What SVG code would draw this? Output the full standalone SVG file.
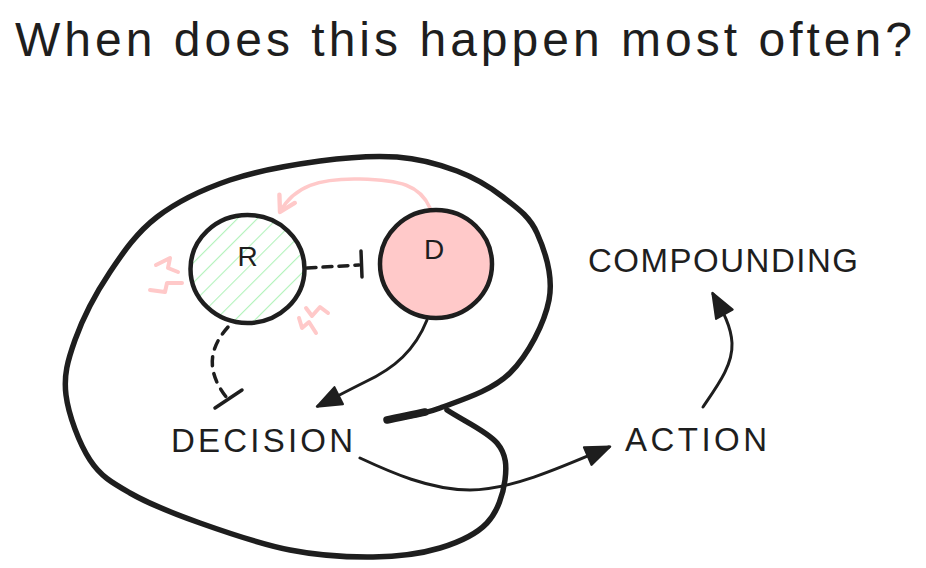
<svg xmlns="http://www.w3.org/2000/svg" width="926" height="568" viewBox="0 0 926 568">
  <style>
    .ink { fill: none; stroke: #1e1e1e; stroke-linecap: round; stroke-linejoin: round; }
    .pink { fill: none; stroke: #ffc9c9; stroke-linecap: round; stroke-linejoin: round; }
    .label { font-family: "Liberation Sans", Arial, sans-serif; fill: #1e1e1e; }
  </style>
  <defs>
    <marker id="arrowFill" markerUnits="userSpaceOnUse" markerWidth="30" markerHeight="30" viewBox="-20 -10 22 20" refX="0" refY="0" orient="auto">
      <path d="M1,0 L-17,-7 L-17,7 Z" fill="#1e1e1e" stroke="#1e1e1e" stroke-width="1.5" stroke-linejoin="round"/>
    </marker>
    <marker id="arrowPink" markerUnits="userSpaceOnUse" markerWidth="30" markerHeight="30" viewBox="-20 -12 24 24" refX="0" refY="0" orient="auto">
      <path d="M-12,-7 L0,0 L-12,7" fill="none" stroke="#ffc9c9" stroke-width="3.5" stroke-linecap="round" stroke-linejoin="round"/>
    </marker>
    <pattern id="hatch" patternUnits="userSpaceOnUse" width="14" height="14" patternTransform="rotate(45)">
      <line x1="0" y1="0" x2="0" y2="14" stroke="#b2f2bb" stroke-width="2.2"/>
    </pattern>
  </defs>

  <g id="title">
    <text class="label" x="15" y="56" font-size="48" textLength="897" lengthAdjust="spacing">When does this happen most often?</text>
  </g>

  <g id="connectors">
    <!-- big loop -->
    <path class="ink" stroke-width="5.5" d="M387,420 C404.7,416 419.5,415.8 440,408 C460.5,400.2 491.8,391 510,373 C528.2,355 544.5,323.3 549,300 C553.5,276.7 544.7,250.2 537,233 C529.3,215.8 516.3,207.3 503,197 C489.7,186.7 474.7,177.7 457,171 C439.3,164.3 419.8,158.7 397,157 C374.2,155.3 347.8,157.2 320,161 C292.2,164.8 257.2,170.7 230,180 C202.8,189.3 177,201.7 157,217 C137,232.3 123.7,251.5 110,272 C96.3,292.5 82.3,319.5 75,340 C67.7,360.5 63.5,375 66,395 C68.5,415 79.3,443.7 90,460 C100.7,476.3 111.7,482.5 130,493 C148.3,503.5 173.3,513.5 200,523 C226.7,532.5 261.2,544.3 290,550 C318.8,555.7 348,557.3 373,557 C398,556.7 421,553.7 440,548 C459,542.3 476.2,534.3 487,523 C497.8,511.7 503.3,493.3 505,480 C506.7,466.7 506.7,454.7 497,443 C487.3,431.3 463.7,421 447,410"/>
    <path class="ink" stroke-width="7.5" d="M387,420 C400,417 412,415 425,412"/>

    <!-- pink arrow D -> R -->
    <path class="pink" stroke-width="3.5" d="M430,208 C420,185 400,180 360,179 C320,178 294,186 280,212" marker-end="url(#arrowPink)"/>

    <!-- dashed R -| D -->
    <path class="ink" stroke-width="3.5" stroke-dasharray="9 7" d="M307,268 L359,265"/>
    <path class="ink" stroke-width="3.5" d="M361,251 L362,277"/>

    <!-- dashed R -| DECISION -->
    <path class="ink" stroke-width="3.5" stroke-dasharray="9 8" d="M228,327 C212,345 203,368 227,398"/>
    <path class="ink" stroke-width="3.5" d="M215,408 L242,390"/>

    <!-- D -> DECISION -->
    <path class="ink" stroke-width="3" d="M427,320 C415,350 395,368 365,382 C345,392 330,400 318,406" marker-end="url(#arrowFill)"/>

    <!-- DECISION -> ACTION -->
    <path class="ink" stroke-width="3" d="M360,458 C390,472 430,490 470,490 C510,490 560,468 609,447" marker-end="url(#arrowFill)"/>

    <!-- ACTION -> COMPOUNDING -->
    <path class="ink" stroke-width="3" d="M703,407 C718,385 733,365 732,343 C731,325 722,310 713,294" marker-end="url(#arrowFill)"/>
  </g>

  <g id="node-R">
    <ellipse cx="247.5" cy="269" rx="57" ry="54" fill="url(#hatch)"/>
    <ellipse class="ink" cx="247.5" cy="269" rx="57" ry="54" stroke-width="4.5"/>
    <text class="label" x="247.5" y="266" font-size="28" text-anchor="middle">R</text>
    <path class="pink" stroke-width="4" d="M156,265 L170,258 L168,268 L178,272"/>
    <path class="pink" stroke-width="4" d="M150,290 L165,292 L167,283 L182,283"/>
    <path class="pink" stroke-width="4" d="M306,308 L312,316 L320,307 L328,313"/>
    <path class="pink" stroke-width="4" d="M299,318 L302,328 L309,322 L316,333"/>
  </g>

  <g id="node-D">
    <ellipse cx="436" cy="264" rx="56" ry="54" fill="#ffc9c9" stroke="#1e1e1e" stroke-width="4.5"/>
    <text class="label" x="434" y="259" font-size="28" text-anchor="middle">D</text>
  </g>

  <g id="node-DECISION">
    <text class="label" x="171" y="452" font-size="33" textLength="182" lengthAdjust="spacing">DECISION</text>
  </g>

  <g id="node-ACTION">
    <text class="label" x="625" y="451" font-size="33" textLength="142" lengthAdjust="spacing">ACTION</text>
  </g>

  <g id="node-COMPOUNDING">
    <text class="label" x="588" y="272" font-size="33" textLength="270" lengthAdjust="spacing">COMPOUNDING</text>
  </g>
</svg>
